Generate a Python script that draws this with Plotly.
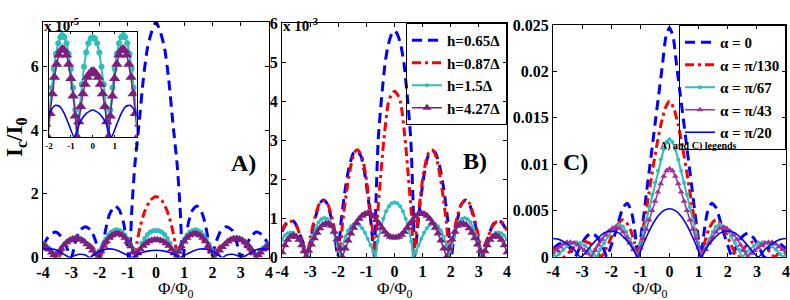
import plotly.graph_objects as go

# ---------------- DATA ----------------
# Panel A  (values in units of 1e-5)
A_blue_dash_x = [-4.0, -3.85, -3.7, -3.55, -3.4, -3.2, -3.0, -2.85, -2.7, -2.5, -2.3, -2.15, -1.95, -1.8, -1.65, -1.45, -1.3, -1.15, -1.05, -0.95, -0.85, -0.75, -0.6, -0.45, -0.3, -0.15, 0.0,
                 0.15, 0.3, 0.45, 0.6, 0.75, 0.85, 0.95, 1.05, 1.15, 1.3, 1.45, 1.65, 1.8, 1.95, 2.15, 2.3, 2.5, 2.7, 2.85, 3.0, 3.2, 3.4, 3.55, 3.7, 3.85, 4.0]
A_blue_dash_y = [0.38, 0.6, 0.75, 0.8, 0.7, 0.4, 0.0, 0.5, 0.85, 0.97, 0.85, 0.55, 0.0, 0.8, 1.35, 1.62, 1.5, 1.1, 0.55, 0.0, 1.6, 2.9, 4.2, 5.6, 6.6, 7.1, 7.4,
                 7.1, 6.6, 5.6, 4.2, 2.9, 1.6, 0.0, 0.55, 1.1, 1.5, 1.62, 1.35, 0.8, 0.0, 0.55, 0.85, 0.97, 0.85, 0.5, 0.0, 0.4, 0.7, 0.8, 0.75, 0.6, 0.38]

A_red_x = [-4.0, -3.8, -3.6, -3.45, -3.3, -3.15, -3.0, -2.75, -2.5, -2.3, -2.15, -2.0, -1.85, -1.7, -1.55, -1.38, -1.2, -1.05, -0.9, -0.76, -0.68, -0.55, -0.4, -0.2, 0.0,
           0.2, 0.4, 0.55, 0.68, 0.76, 0.9, 1.05, 1.2, 1.38, 1.55, 1.7, 1.85, 2.0, 2.15, 2.3, 2.5, 2.75, 3.0, 3.15, 3.3, 3.45, 3.6, 3.8, 4.0]
A_red_y = [0.35, 0.3, 0.2, 0.0, 0.25, 0.42, 0.52, 0.6, 0.5, 0.38, 0.22, 0.0, 0.28, 0.5, 0.66, 0.72, 0.7, 0.58, 0.35, 0.0, 0.45, 1.0, 1.45, 1.8, 1.92,
           1.8, 1.45, 1.0, 0.45, 0.0, 0.35, 0.58, 0.7, 0.72, 0.66, 0.5, 0.28, 0.0, 0.22, 0.38, 0.5, 0.6, 0.52, 0.42, 0.25, 0.0, 0.2, 0.3, 0.35]

A_cyan_x = [-4.0, -3.9, -3.8, -3.7, -3.62, -3.55, -3.45, -3.35, -3.25, -3.15, -3.05, -2.95, -2.85, -2.75, -2.65, -2.55, -2.45, -2.35, -2.25, -2.15, -2.08,
            -1.98, -1.88, -1.78, -1.68, -1.58, -1.48, -1.4, -1.3, -1.2, -1.1, -1.0, -0.9, -0.8, -0.7, -0.6, -0.5, -0.4, -0.3, -0.2, -0.1, 0.0,
            0.1, 0.2, 0.3, 0.4, 0.5, 0.6, 0.7, 0.8, 0.9, 1.0, 1.1, 1.2, 1.3, 1.4, 1.48, 1.58, 1.68, 1.78, 1.88, 1.98, 2.08,
            2.15, 2.25, 2.35, 2.45, 2.55, 2.65, 2.75, 2.85, 2.95, 3.05, 3.15, 3.25, 3.35, 3.45, 3.55, 3.62, 3.7, 3.8, 3.9, 4.0]
A_cyan_y = [0.45, 0.38, 0.3, 0.2, 0.1, 0.0, 0.17, 0.3, 0.41, 0.5, 0.56, 0.6, 0.62, 0.61, 0.58, 0.52, 0.44, 0.35, 0.24, 0.12, 0.0,
            0.22, 0.42, 0.58, 0.71, 0.8, 0.85, 0.87, 0.85, 0.8, 0.71, 0.58, 0.42, 0.23, 0.0, 0.25, 0.45, 0.6, 0.72, 0.8, 0.84, 0.85,
            0.84, 0.8, 0.72, 0.6, 0.45, 0.25, 0.0, 0.23, 0.42, 0.58, 0.71, 0.8, 0.85, 0.87, 0.85, 0.8, 0.71, 0.58, 0.42, 0.22, 0.0,
            0.12, 0.24, 0.35, 0.44, 0.52, 0.58, 0.61, 0.62, 0.6, 0.56, 0.5, 0.41, 0.3, 0.17, 0.0, 0.1, 0.2, 0.3, 0.38, 0.45]

A_purple_x = [-4.0, -3.9, -3.8, -3.7, -3.62, -3.55, -3.45, -3.35, -3.25, -3.15, -3.05, -2.95, -2.85, -2.75, -2.65, -2.55, -2.45, -2.35, -2.25, -2.15, -2.05,
              -1.95, -1.85, -1.75, -1.65, -1.55, -1.45, -1.38, -1.3, -1.2, -1.1, -1.0, -0.9, -0.8, -0.72, -0.64, -0.55, -0.45, -0.35, -0.25, -0.15, -0.05,
              0.05, 0.15, 0.25, 0.35, 0.45, 0.55, 0.64, 0.72, 0.8, 0.9, 1.0, 1.1, 1.2, 1.3, 1.38, 1.45, 1.55, 1.65, 1.75, 1.85, 1.95, 2.05,
              2.15, 2.25, 2.35, 2.45, 2.55, 2.65, 2.75, 2.85, 2.95, 3.05, 3.15, 3.25, 3.35, 3.45, 3.55, 3.62, 3.7, 3.8, 3.9, 4.0]
A_purple_y = [0.4, 0.33, 0.25, 0.16, 0.08, 0.0, 0.15, 0.28, 0.39, 0.48, 0.54, 0.58, 0.6, 0.59, 0.56, 0.5, 0.42, 0.33, 0.22, 0.11, 0.0,
              0.2, 0.37, 0.51, 0.62, 0.7, 0.74, 0.75, 0.74, 0.7, 0.62, 0.5, 0.35, 0.18, 0.0, 0.13, 0.26, 0.37, 0.45, 0.51, 0.54, 0.56,
              0.56, 0.54, 0.51, 0.45, 0.37, 0.26, 0.13, 0.0, 0.18, 0.35, 0.5, 0.62, 0.7, 0.74, 0.75, 0.74, 0.7, 0.62, 0.51, 0.37, 0.2, 0.0,
              0.11, 0.22, 0.33, 0.42, 0.5, 0.56, 0.59, 0.6, 0.58, 0.54, 0.48, 0.39, 0.28, 0.15, 0.0, 0.08, 0.16, 0.25, 0.33, 0.4]

A_blue_solid_x = [-4.0, -3.8, -3.6, -3.4, -3.2, -3.05, -2.85, -2.7, -2.5, -2.34, -2.1, -1.9, -1.7, -1.5, -1.3, -1.1, -0.85, -0.6, -0.3, 0.0,
                  0.3, 0.6, 0.85, 1.1, 1.3, 1.5, 1.7, 1.9, 2.1, 2.34, 2.5, 2.7, 2.85, 3.05, 3.2, 3.4, 3.6, 3.8, 4.0]
A_blue_solid_y = [0.25, 0.27, 0.26, 0.18, 0.07, 0.0, 0.07, 0.1, 0.08, 0.0, 0.14, 0.23, 0.27, 0.26, 0.2, 0.11, 0.0, 0.12, 0.2, 0.23,
                  0.2, 0.12, 0.0, 0.11, 0.2, 0.26, 0.27, 0.23, 0.14, 0.0, 0.08, 0.1, 0.07, 0.0, 0.07, 0.18, 0.26, 0.27, 0.25]

# Panel B  (values in units of 1e-3)
B_blue_x = [-4.0, -3.88, -3.75, -3.62, -3.48, -3.35, -3.2, -3.08, -2.95, -2.8, -2.65, -2.52, -2.38, -2.25, -2.12, -2.02,
            -1.9, -1.75, -1.6, -1.45, -1.35, -1.2, -1.05, -0.9, -0.8, -0.72, -0.66, -0.58, -0.47, -0.33, -0.22, -0.1, 0.0,
            0.1, 0.22, 0.33, 0.47, 0.58, 0.66, 0.72, 0.8, 0.9, 1.05, 1.2, 1.35, 1.45, 1.6, 1.75, 1.9, 2.02,
            2.12, 2.25, 2.38, 2.52, 2.65, 2.8, 2.95, 3.08, 3.2, 3.35, 3.48, 3.62, 3.75, 3.88, 4.0]
B_blue_y = [0.65, 0.82, 0.92, 0.93, 0.8, 0.55, 0.28, 0.0, 0.55, 1.05, 1.38, 1.46, 1.35, 1.0, 0.55, 0.0,
            0.9, 1.75, 2.35, 2.68, 2.72, 2.6, 2.1, 1.3, 0.6, 0.0, 1.4, 3.0, 4.0, 5.0, 5.45, 5.72, 5.8,
            5.72, 5.45, 5.0, 4.0, 3.0, 1.4, 0.0, 0.6, 1.3, 2.1, 2.6, 2.72, 2.68, 2.35, 1.75, 0.9, 0.0,
            0.55, 1.0, 1.35, 1.46, 1.38, 1.05, 0.55, 0.0, 0.28, 0.55, 0.8, 0.93, 0.92, 0.82, 0.65]

B_red_x = [-4.0, -3.88, -3.75, -3.62, -3.48, -3.35, -3.22, -3.12, -2.98, -2.82, -2.66, -2.5, -2.36, -2.22, -2.08, -1.96,
           -1.85, -1.7, -1.55, -1.42, -1.32, -1.18, -1.02, -0.88, -0.76, -0.68, -0.6, -0.5, -0.38, -0.22, -0.12, 0.0,
           0.12, 0.22, 0.38, 0.5, 0.6, 0.68, 0.76, 0.88, 1.02, 1.18, 1.32, 1.42, 1.55, 1.7, 1.85, 1.96,
           2.08, 2.22, 2.36, 2.5, 2.66, 2.82, 2.98, 3.12, 3.22, 3.35, 3.48, 3.62, 3.75, 3.88, 4.0]
B_red_y = [0.68, 0.85, 0.92, 0.9, 0.78, 0.55, 0.28, 0.0, 0.55, 1.05, 1.38, 1.45, 1.33, 1.0, 0.52, 0.0,
           0.85, 1.7, 2.35, 2.68, 2.75, 2.62, 2.1, 1.3, 0.55, 0.0, 1.1, 2.0, 3.0, 3.95, 4.15, 4.25,
           4.15, 3.95, 3.0, 2.0, 1.1, 0.0, 0.55, 1.3, 2.1, 2.62, 2.75, 2.68, 2.35, 1.7, 0.85, 0.0,
           0.52, 1.0, 1.33, 1.45, 1.38, 1.05, 0.55, 0.0, 0.28, 0.55, 0.78, 0.9, 0.92, 0.85, 0.68]

B_cyan_x = [-4.0, -3.9, -3.8, -3.7, -3.6, -3.5, -3.4, -3.3, -3.2, -3.1, -3.0, -2.9, -2.8, -2.7, -2.6, -2.5, -2.4, -2.3, -2.2, -2.1, -2.02,
            -1.95, -1.85, -1.75, -1.65, -1.55, -1.45, -1.35, -1.25, -1.15, -1.05, -0.95, -0.85, -0.76, -0.68, -0.6, -0.5, -0.4, -0.3, -0.2, -0.1, 0.0,
            0.1, 0.2, 0.3, 0.4, 0.5, 0.6, 0.68, 0.76, 0.85, 0.95, 1.05, 1.15, 1.25, 1.35, 1.45, 1.55, 1.65, 1.75, 1.85, 1.95, 2.02,
            2.1, 2.2, 2.3, 2.4, 2.5, 2.6, 2.7, 2.8, 2.9, 3.0, 3.1, 3.2, 3.3, 3.4, 3.5, 3.6, 3.7, 3.8, 3.9, 4.0]
B_cyan_y = [0.45, 0.55, 0.61, 0.63, 0.62, 0.56, 0.46, 0.33, 0.18, 0.0, 0.3, 0.55, 0.75, 0.89, 0.97, 1.0, 0.98, 0.9, 0.75, 0.5, 0.28,
            0.0, 0.3, 0.52, 0.68, 0.79, 0.84, 0.85, 0.82, 0.74, 0.62, 0.47, 0.3, 0.14, 0.0, 0.4, 0.72, 0.98, 1.17, 1.3, 1.38, 1.4,
            1.38, 1.3, 1.17, 0.98, 0.72, 0.4, 0.0, 0.14, 0.3, 0.47, 0.62, 0.74, 0.82, 0.85, 0.84, 0.79, 0.68, 0.52, 0.3, 0.0, 0.28,
            0.5, 0.75, 0.9, 0.98, 1.0, 0.97, 0.89, 0.75, 0.55, 0.3, 0.0, 0.18, 0.33, 0.46, 0.56, 0.62, 0.63, 0.61, 0.55, 0.45]

B_purple_x = [-4.0, -3.9, -3.8, -3.7, -3.6, -3.5, -3.4, -3.3, -3.22, -3.15, -3.05, -2.95, -2.85, -2.75, -2.65, -2.55, -2.45, -2.35, -2.25, -2.15, -2.05,
              -1.95, -1.85, -1.75, -1.65, -1.55, -1.45, -1.35, -1.25, -1.15, -1.05, -0.95, -0.85, -0.75, -0.65, -0.55, -0.45, -0.35, -0.25, -0.15, -0.05,
              0.05, 0.15, 0.25, 0.35, 0.45, 0.55, 0.65, 0.75, 0.85, 0.95, 1.05, 1.15, 1.25, 1.35, 1.45, 1.55, 1.65, 1.75, 1.85, 1.95,
              2.05, 2.15, 2.25, 2.35, 2.45, 2.55, 2.65, 2.75, 2.85, 2.95, 3.05, 3.15, 3.22, 3.3, 3.4, 3.5, 3.6, 3.7, 3.8, 3.9, 4.0]
B_purple_y = [0.12, 0.3, 0.44, 0.52, 0.55, 0.52, 0.44, 0.3, 0.15, 0.0, 0.16, 0.32, 0.48, 0.62, 0.74, 0.82, 0.85, 0.85, 0.8, 0.65, 0.45,
              0.22, 0.0, 0.22, 0.42, 0.6, 0.75, 0.88, 0.98, 1.06, 1.1, 1.12, 1.1, 1.04, 0.95, 0.85, 0.75, 0.65, 0.57, 0.52, 0.5,
              0.5, 0.52, 0.57, 0.65, 0.75, 0.85, 0.95, 1.04, 1.1, 1.12, 1.1, 1.06, 0.98, 0.88, 0.75, 0.6, 0.42, 0.22, 0.0, 0.22,
              0.45, 0.65, 0.8, 0.85, 0.85, 0.82, 0.74, 0.62, 0.48, 0.32, 0.16, 0.0, 0.15, 0.3, 0.44, 0.52, 0.55, 0.52, 0.44, 0.3, 0.12]

# Panel C  (absolute values)
C_blue_dash_x = [-4.0, -3.8, -3.6, -3.4, -3.25, -3.1, -2.9, -2.7, -2.5, -2.3, -2.15, -2.05, -1.9, -1.75, -1.6, -1.45, -1.3, -1.18, -1.08,
                 -0.97, -0.87, -0.78, -0.68, -0.58, -0.47, -0.37, -0.25, -0.12, 0.0,
                 0.12, 0.25, 0.37, 0.47, 0.58, 0.68, 0.78, 0.87, 0.97, 1.08, 1.18, 1.3, 1.45, 1.6, 1.75, 1.9, 2.05, 2.15,
                 2.3, 2.5, 2.7, 2.9, 3.1, 3.25, 3.4, 3.6, 3.8, 4.0]
C_blue_dash_y = [0.0009, 0.0014, 0.0015, 0.0009, 0.0, 0.0009, 0.002, 0.0026, 0.0022, 0.0012, 0.0, 0.0008, 0.0022, 0.0038, 0.0053, 0.0058, 0.0048, 0.0025, 0.0,
                 0.0025, 0.0048, 0.0072, 0.0097, 0.0122, 0.015, 0.0175, 0.0205, 0.0238, 0.0247,
                 0.0238, 0.0205, 0.0175, 0.015, 0.0122, 0.0097, 0.0072, 0.0048, 0.0025, 0.0, 0.0025, 0.0048, 0.0058, 0.0053, 0.0038, 0.0022, 0.0008, 0.0,
                 0.0012, 0.0022, 0.0026, 0.002, 0.0009, 0.0, 0.0009, 0.0015, 0.0014, 0.0009]

C_red_x = [-4.0, -3.8, -3.6, -3.4, -3.2, -2.95, -2.7, -2.5, -2.35, -2.1, -1.95, -1.8, -1.62, -1.5, -1.35, -1.2, -1.1,
           -0.9, -0.75, -0.6, -0.45, -0.3, -0.15, 0.0,
           0.15, 0.3, 0.45, 0.6, 0.75, 0.9, 1.1, 1.2, 1.35, 1.5, 1.62, 1.8, 1.95, 2.1, 2.35,
           2.5, 2.7, 2.95, 3.2, 3.4, 3.6, 3.8, 4.0]
C_red_y = [0.001, 0.0006, 0.0, 0.0007, 0.0013, 0.0017, 0.0014, 0.0007, 0.0, 0.0014, 0.0025, 0.0034, 0.004, 0.0038, 0.003, 0.0015, 0.0,
           0.0032, 0.006, 0.009, 0.0118, 0.0142, 0.016, 0.0168,
           0.016, 0.0142, 0.0118, 0.009, 0.006, 0.0032, 0.0, 0.0015, 0.003, 0.0038, 0.004, 0.0034, 0.0025, 0.0014, 0.0,
           0.0007, 0.0014, 0.0017, 0.0013, 0.0007, 0.0, 0.0006, 0.001]

C_cyan_x = [-4.0, -3.9, -3.8, -3.65, -3.5, -3.35, -3.2, -3.05, -2.9, -2.75, -2.62, -2.5, -2.38, -2.25, -2.12, -2.0, -1.86, -1.72, -1.6, -1.48,
            -1.36, -1.24, -1.1, -1.0, -0.9, -0.8, -0.7, -0.6, -0.5, -0.4, -0.3, -0.2, -0.1, 0.0,
            0.1, 0.2, 0.3, 0.4, 0.5, 0.6, 0.7, 0.8, 0.9, 1.0, 1.1, 1.24, 1.36, 1.48, 1.6, 1.72, 1.86, 2.0, 2.12, 2.25,
            2.38, 2.5, 2.62, 2.75, 2.9, 3.05, 3.2, 3.35, 3.5, 3.65, 3.8, 3.9, 4.0]
C_cyan_y = [0.0003, 0.0, 0.0003, 0.0008, 0.0012, 0.0015, 0.0016, 0.0015, 0.0012, 0.0008, 0.0004, 0.0, 0.0008, 0.0015, 0.0022, 0.0028, 0.0033, 0.0035, 0.0033, 0.0027,
            0.0019, 0.001, 0.0, 0.0013, 0.0026, 0.004, 0.0054, 0.0067, 0.008, 0.0093, 0.0105, 0.0116, 0.0124, 0.0127,
            0.0124, 0.0116, 0.0105, 0.0093, 0.008, 0.0067, 0.0054, 0.004, 0.0026, 0.0013, 0.0, 0.001, 0.0019, 0.0027, 0.0033, 0.0035, 0.0033, 0.0028, 0.0022, 0.0015,
            0.0008, 0.0, 0.0004, 0.0008, 0.0012, 0.0015, 0.0016, 0.0015, 0.0012, 0.0008, 0.0003, 0.0, 0.0003]

C_purple_x = [-4.0, -3.88, -3.76, -3.64, -3.52, -3.4, -3.28, -3.16, -3.04, -2.92, -2.8, -2.68, -2.56, -2.44, -2.32, -2.2, -2.08, -1.96, -1.84, -1.72,
              -1.6, -1.48, -1.36, -1.24, -1.1, -1.0, -0.9, -0.8, -0.7, -0.6, -0.5, -0.4, -0.3, -0.2, -0.1, 0.0,
              0.1, 0.2, 0.3, 0.4, 0.5, 0.6, 0.7, 0.8, 0.9, 1.0, 1.1, 1.24, 1.36, 1.48, 1.6, 1.72, 1.84, 1.96, 2.08, 2.2,
              2.32, 2.44, 2.56, 2.68, 2.8, 2.92, 3.04, 3.16, 3.28, 3.4, 3.52, 3.64, 3.76, 3.88, 4.0]
C_purple_y = [0.0005, 0.0008, 0.0011, 0.0014, 0.0016, 0.0016, 0.0015, 0.0013, 0.001, 0.0007, 0.0004, 0.0, 0.0007, 0.0013, 0.0019, 0.0024, 0.0028, 0.0031, 0.0032, 0.0031,
              0.0027, 0.0021, 0.0015, 0.0008, 0.0, 0.001, 0.002, 0.003, 0.004, 0.005, 0.006, 0.007, 0.0079, 0.0087, 0.0093, 0.0095,
              0.0093, 0.0087, 0.0079, 0.007, 0.006, 0.005, 0.004, 0.003, 0.002, 0.001, 0.0, 0.0008, 0.0015, 0.0021, 0.0027, 0.0031, 0.0032, 0.0031, 0.0028, 0.0024,
              0.0019, 0.0013, 0.0007, 0.0, 0.0004, 0.0007, 0.001, 0.0013, 0.0015, 0.0016, 0.0016, 0.0014, 0.0011, 0.0008, 0.0005]

C_blue_solid_x = [-4.0, -3.8, -3.55, -3.3, -3.05, -2.75, -2.5, -2.25, -2.0, -1.75, -1.5, -1.3, -1.08, -0.95, -0.8, -0.6, -0.4, -0.2, 0.0,
                  0.2, 0.4, 0.6, 0.8, 0.95, 1.08, 1.3, 1.5, 1.75, 2.0, 2.25, 2.5, 2.75, 3.05, 3.3, 3.55, 3.8, 4.0]
C_blue_solid_y = [0.002, 0.0019, 0.0015, 0.0009, 0.0, 0.001, 0.0019, 0.0026, 0.0028, 0.0026, 0.0019, 0.0011, 0.0, 0.001, 0.0021, 0.0034, 0.0044, 0.005, 0.0052,
                  0.005, 0.0044, 0.0034, 0.0021, 0.001, 0.0, 0.0011, 0.0019, 0.0026, 0.0028, 0.0026, 0.0019, 0.001, 0.0, 0.0009, 0.0015, 0.0019, 0.002]

# Tick labels / legend names
X_TICKS = [-4, -3, -2, -1, 0, 1, 2, 3, 4]
X_TICK_TEXT = ["-4", "-3", "-2", "-1", "0", "1", "2", "3", "4"]
INSET_TICKS = [-2, -1, 0, 1, 2]
INSET_TICK_TEXT = ["-2", "-1", "0", "1", "2"]
A_Y_TICKS = [0, 2, 4, 6]
B_Y_TICKS = [0, 1, 2, 3, 4, 5, 6]
C_Y_TICKS = [0, 0.005, 0.01, 0.015, 0.02, 0.025]
C_Y_TICK_TEXT = ["0", "0.005", "0.01", "0.015", "0.02", "0.025"]
B_NAMES = ["h=0.65Δ", "h=0.87Δ", "h=1.5Δ", "h=4.27Δ"]
C_NAMES = ["α = 0", "α = π/130", "α = π/67", "α = π/43", "α = π/20"]

# ---------------- STYLE ----------------
SERIF = "Liberation Serif"
BLUE = "#0000FF"
RED = "#FF0000"
CYAN = "#2FBDBD"
PURPLE = "#7D1F7F"
PURPLE_C = "#A12FA3"
W, H = 790, 300


def px_x(p):
    return p / W


def px_y(p):
    return 1 - p / H


def blue_dash():
    return dict(mode="lines", line=dict(color=BLUE, width=3, dash="10px,6px", shape="spline", smoothing=0.6))


def red_dashdot():
    return dict(mode="lines", line=dict(color=RED, width=3, dash="9px,4px,3px,4px", shape="spline", smoothing=0.6))


def cyan_style(size=5):
    return dict(mode="lines+markers", line=dict(color=CYAN, width=2),
                marker=dict(symbol="circle", size=size, color=CYAN))


def purple_style(color=PURPLE, size=8):
    return dict(mode="lines+markers", line=dict(color=color, width=1.5),
                marker=dict(symbol="triangle-up", size=size, color=color))


def blue_solid():
    return dict(mode="lines", line=dict(color=BLUE, width=1.6, shape="spline", smoothing=0.6))


fig = go.Figure()

# Panel A
fig.add_trace(go.Scatter(x=A_blue_dash_x, y=A_blue_dash_y, xaxis="x", yaxis="y", showlegend=False, **blue_dash()))
fig.add_trace(go.Scatter(x=A_red_x, y=A_red_y, xaxis="x", yaxis="y", showlegend=False, **red_dashdot()))
fig.add_trace(go.Scatter(x=A_cyan_x, y=A_cyan_y, xaxis="x", yaxis="y", showlegend=False, **cyan_style()))
fig.add_trace(go.Scatter(x=A_purple_x, y=A_purple_y, xaxis="x", yaxis="y", showlegend=False, **purple_style()))
fig.add_trace(go.Scatter(x=A_blue_solid_x, y=A_blue_solid_y, xaxis="x", yaxis="y", showlegend=False, **blue_solid()))

# Panel B
fig.add_trace(go.Scatter(x=B_blue_x, y=B_blue_y, xaxis="x2", yaxis="y2", name=B_NAMES[0], legend="legend", **blue_dash()))
fig.add_trace(go.Scatter(x=B_red_x, y=B_red_y, xaxis="x2", yaxis="y2", name=B_NAMES[1], legend="legend", **red_dashdot()))
fig.add_trace(go.Scatter(x=B_cyan_x, y=B_cyan_y, xaxis="x2", yaxis="y2", name=B_NAMES[2], legend="legend", **cyan_style(4)))
fig.add_trace(go.Scatter(x=B_purple_x, y=B_purple_y, xaxis="x2", yaxis="y2", name=B_NAMES[3], legend="legend", **purple_style()))

# Panel C
fig.add_trace(go.Scatter(x=C_blue_dash_x, y=C_blue_dash_y, xaxis="x3", yaxis="y3", name=C_NAMES[0], legend="legend2", **blue_dash()))
fig.add_trace(go.Scatter(x=C_red_x, y=C_red_y, xaxis="x3", yaxis="y3", name=C_NAMES[1], legend="legend2", **red_dashdot()))
fig.add_trace(go.Scatter(x=C_cyan_x, y=C_cyan_y, xaxis="x3", yaxis="y3", name=C_NAMES[2], legend="legend2", **cyan_style(4)))
fig.add_trace(go.Scatter(x=C_purple_x, y=C_purple_y, xaxis="x3", yaxis="y3", name=C_NAMES[3], legend="legend2", **purple_style(PURPLE_C, 6)))
fig.add_trace(go.Scatter(x=C_blue_solid_x, y=C_blue_solid_y, xaxis="x3", yaxis="y3", name=C_NAMES[4], legend="legend2", **blue_solid()))

# Inset of panel A
fig.add_trace(go.Scatter(x=A_cyan_x, y=A_cyan_y, xaxis="x4", yaxis="y4", showlegend=False, **cyan_style(6)))
fig.add_trace(go.Scatter(x=A_purple_x, y=A_purple_y, xaxis="x4", yaxis="y4", showlegend=False, **purple_style(PURPLE, 10)))
fig.add_trace(go.Scatter(x=A_blue_solid_x, y=A_blue_solid_y, xaxis="x4", yaxis="y4", showlegend=False, **blue_solid()))

tick_font = dict(family=SERIF, size=16, color="black", weight="bold")
axis_common = dict(showline=True, linecolor="black", linewidth=1, mirror="ticks", ticks="inside",
                   ticklen=4, tickcolor="black", showgrid=False, zeroline=False, tickfont=tick_font,
                   automargin=False, ticklabeloverflow="allow")

x_common = dict(axis_common, range=[-4, 4], tickvals=X_TICKS, ticktext=X_TICK_TEXT)
legend_common = dict(bgcolor="rgba(255,255,255,0)", bordercolor="black", borderwidth=1,
                     font=dict(family=SERIF, size=15, color="black", weight="bold"),
                     tracegroupgap=0, itemwidth=30, yanchor="top", xanchor="right")

fig.update_layout(
    template="none",
    width=W, height=H, autosize=False,
    margin=dict(l=0, r=0, t=0, b=0, pad=0),
    paper_bgcolor="white", plot_bgcolor="white",
    xaxis=dict(x_common, domain=[px_x(43), px_x(269)], anchor="y"),
    yaxis=dict(axis_common, domain=[px_y(257.5), px_y(22)], anchor="x", range=[0, 7.4], tickvals=A_Y_TICKS),
    xaxis2=dict(x_common, domain=[px_x(282), px_x(507)], anchor="y2"),
    yaxis2=dict(axis_common, domain=[px_y(257), px_y(23)], anchor="x2", range=[0, 6], tickvals=B_Y_TICKS),
    xaxis3=dict(x_common, domain=[px_x(553), px_x(786)], anchor="y3"),
    yaxis3=dict(axis_common, domain=[px_y(257), px_y(25)], anchor="x3", range=[0, 0.025],
                tickvals=C_Y_TICKS, ticktext=C_Y_TICK_TEXT),
    xaxis4=dict(axis_common, domain=[px_x(49), px_x(136.5)], anchor="y4", range=[-2, 2],
                tickvals=INSET_TICKS, ticktext=INSET_TICK_TEXT, ticklen=2,
                tickfont=dict(family=SERIF, size=9, color="black", weight="bold")),
    yaxis4=dict(axis_common, domain=[px_y(137), px_y(31.5)], anchor="x4", range=[0, 0.9],
                showticklabels=False, ticks=""),
    legend=dict(legend_common, x=px_x(507), y=px_y(23)),
    legend2=dict(legend_common, x=px_x(786), y=px_y(25)),
)

ann_bold = dict(family=SERIF, color="black", weight="bold")
annotations = [
    dict(text="I<sub>c</sub>/I<sub>0</sub>", x=px_x(16), y=px_y(137), textangle=-90, xanchor="center",
         font=dict(ann_bold, size=23)),
    dict(text="x 10<sup>-5</sup>", x=px_x(42), y=px_y(14), xanchor="left", font=dict(ann_bold, size=15)),
    dict(text="x 10<sup>-3</sup>", x=px_x(281), y=px_y(14), xanchor="left", font=dict(ann_bold, size=15)),
    dict(text="A)", x=px_x(229), y=px_y(163), font=dict(ann_bold, size=24)),
    dict(text="B)", x=px_x(475), y=px_y(161), font=dict(ann_bold, size=24)),
    dict(text="C)", x=px_x(590), y=px_y(162), font=dict(ann_bold, size=24)),
    dict(text="A) and C) legends", x=px_x(739), y=px_y(146), font=dict(ann_bold, size=10)),
]
for cx in (156, 394.5, 669.5):
    annotations.append(dict(text="Φ/Φ<sub>0</sub>", x=px_x(cx), y=px_y(277), yanchor="top",
                            font=dict(family=SERIF, size=17, color="black")))
for a in annotations:
    a.setdefault("xref", "paper")
    a.setdefault("yref", "paper")
    a.setdefault("showarrow", False)
fig.update_layout(annotations=annotations)

fig.write_html("out.html", config={"displayModeBar": False},
               post_script="document.body.style.margin='0';")
